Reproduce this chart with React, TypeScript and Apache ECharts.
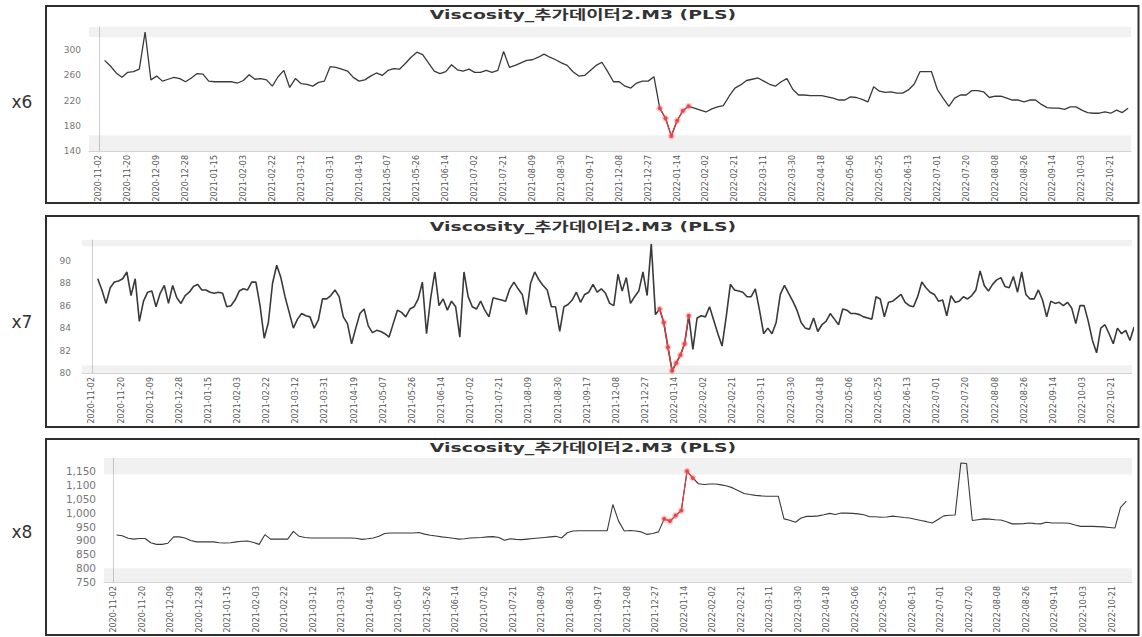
import React, { useEffect, useRef } from "react";
import * as echarts from "echarts";

// ---------- data ----------
const chartTitle = "Viscosity_추가데이터2.M3 (PLS)";

const dateLabels = [
  "2020-11-02", "2020-11-20", "2020-12-09", "2020-12-28", "2021-01-15", "2021-02-03",
  "2021-02-22", "2021-03-12", "2021-03-31", "2021-04-19", "2021-05-07", "2021-05-26",
  "2021-06-14", "2021-07-02", "2021-07-21", "2021-08-09", "2021-08-30", "2021-09-17",
  "2021-12-08", "2021-12-27", "2022-01-14", "2022-02-02", "2022-02-21", "2022-03-11",
  "2022-03-30", "2022-04-18", "2022-05-06", "2022-05-25", "2022-06-13", "2022-07-01",
  "2022-07-20", "2022-08-08", "2022-08-26", "2022-09-14", "2022-10-03", "2022-10-21",
];

const x6Values = [
  284, 275, 264, 257, 265, 266, 270, 329, 253, 259, 251, 254, 257, 255, 250, 256, 263, 262, 251, 250,
  250, 250, 250, 248, 252, 261, 254, 255, 253, 243, 258, 268, 241, 255, 247, 246, 243, 249, 251, 274,
  273, 270, 267, 257, 251, 253, 259, 264, 260, 268, 271, 270, 279, 289, 297, 293, 280, 267, 263, 266,
  277, 269, 267, 270, 265, 265, 268, 265, 268, 298, 273, 276, 280, 284, 285, 289, 294, 289, 285, 280,
  276, 266, 259, 260, 268, 276, 281, 266, 250, 250, 243, 240, 248, 251, 251, 258, 208, 192, 164, 188,
  204, 211, 208, 205, 202, 207, 210, 212, 227, 240, 245, 252, 254, 256, 251, 246, 243, 250, 255, 238,
  229, 229, 228, 228, 228, 226, 224, 221, 221, 226, 225, 222, 218, 242, 235, 233, 234, 232, 232, 237,
  246, 266, 266, 266, 238, 224, 211, 224, 229, 229, 236, 236, 234, 225, 227, 227, 224, 221, 221, 218,
  221, 221, 214, 209, 208, 208, 206, 210, 210, 205, 201, 200, 200, 202, 200, 205, 201, 208,
];

const x7Values = [
  88.4, 87.4, 86.2, 87.6, 88.1, 88.2, 88.4, 89.0, 86.9, 88.4, 84.6, 86.4, 87.2, 87.3, 85.9, 87.1, 87.8, 86.2, 87.8, 86.7,
  86.2, 86.9, 87.2, 87.7, 87.9, 87.4, 87.4, 87.2, 87.1, 87.2, 87.1, 85.9, 86.0, 86.5, 87.3, 87.5, 87.4, 88.1, 88.1, 86.0,
  83.1, 84.5, 88.0, 89.6, 88.5, 86.8, 85.4, 84.0, 84.8, 85.3, 85.1, 85.0, 84.0, 84.7, 86.6, 86.6, 86.9, 87.4, 86.8, 85.0,
  84.4, 82.6, 84.0, 85.3, 85.7, 84.2, 83.6, 83.8, 83.7, 83.5, 83.2, 84.4, 85.6, 85.4, 85.0, 85.7, 85.9, 86.6, 88.1, 83.5,
  86.7, 89.0, 86.0, 86.6, 85.6, 86.4, 85.9, 83.2, 89.0, 86.8, 85.9, 85.7, 86.4, 85.6, 85.0, 86.7, 86.6, 86.5, 86.4, 87.5,
  88.1, 87.5, 87.0, 85.2, 88.0, 89.0, 88.3, 87.8, 87.4, 85.9, 85.9, 83.7, 85.9, 86.1, 86.5, 87.2, 86.3, 87.0, 87.2, 87.9,
  87.2, 87.5, 87.1, 86.2, 86.0, 88.8, 87.3, 88.5, 86.2, 86.8, 87.3, 89.0, 86.9, 91.5, 85.2, 85.7, 84.5, 82.3, 80.2, 80.9,
  81.6, 82.6, 85.1, 82.1, 84.9, 85.1, 85.0, 85.9, 84.7, 83.5, 82.4, 85.0, 87.9, 87.4, 87.3, 87.2, 86.8, 86.8, 87.5, 85.6,
  83.5, 84.0, 83.5, 84.5, 87.0, 87.8, 87.1, 86.4, 85.6, 84.5, 84.0, 83.9, 84.9, 83.7, 84.3, 84.6, 85.3, 84.8, 84.3, 85.7,
  85.6, 85.3, 85.3, 85.2, 85.0, 84.9, 84.8, 86.8, 86.6, 85.0, 86.3, 86.4, 86.7, 87.0, 86.3, 86.0, 85.9, 86.8, 88.1, 87.6,
  87.2, 87.0, 86.4, 86.5, 85.1, 86.9, 86.3, 86.4, 86.8, 86.6, 86.9, 87.4, 89.1, 87.8, 87.3, 87.9, 88.3, 88.5, 87.7, 87.6,
  88.6, 87.2, 89.0, 87.0, 86.6, 86.6, 87.4, 86.5, 85.0, 86.4, 86.2, 86.3, 86.0, 86.3, 85.8, 84.4, 86.0, 86.0, 84.6, 82.9,
  81.8, 84.0, 84.3, 83.5, 82.6, 84.0, 83.5, 83.8, 82.9, 84.1,
];

const x8Values = [
  920, 917, 908, 905, 907, 907, 892, 886, 886, 890, 913, 913, 909, 900, 895, 895, 895, 895, 892, 891,
  892, 895, 897, 898, 893, 886, 921, 905, 905, 905, 905, 933, 915, 911, 909, 909, 909, 909, 909, 909,
  909, 909, 908, 904, 906, 909, 915, 925, 927, 927, 927, 927, 927, 929, 923, 919, 916, 913, 911, 908,
  905, 906, 909, 910, 911, 913, 914, 911, 901, 906, 904, 903, 905, 907, 909, 911, 913, 915, 909, 928,
  934, 935, 935, 935, 935, 935, 935, 1030, 970, 934, 936, 934, 931, 922, 925, 931, 978, 970, 990, 1008,
  1150, 1126, 1105, 1102, 1104, 1104, 1101, 1097, 1090, 1080, 1070, 1066, 1063, 1061, 1060, 1060, 1060, 978, 973, 966,
  981, 987, 987, 989, 993, 998, 994, 999, 999, 998, 996, 993, 986, 986, 984, 985, 988, 986, 983, 981,
  977, 972, 968, 963, 976, 989, 991, 992, 1180, 1178, 972, 975, 978, 977, 975, 974, 968, 960, 960, 961,
  963, 961, 960, 966, 963, 963, 963, 962, 956, 951, 951, 951, 950, 949, 947, 945, 1020, 1042,
];

// flagged (red) sample ranges, inclusive index ranges
const x6Flagged = [96, 101];
const x7Flagged = [135, 142];
const x8Flagged = [96, 101];

// shaded limit bands: [lower limit, upper limit]
const x6Limits = [165, 321];
const x7Limits = [80.7, 91.3];
const x8Limits = [800, 1138];

// y-axis ranges and tick labels
const x6Range = [140, 337];
const x7Range = [80, 91.85];
const x8Range = [750, 1198];
const x6Ticks = [140, 180, 220, 260, 300];
const x7Ticks = [80, 82, 84, 86, 88, 90];
const x8Ticks = [750, 800, 850, 900, 950, 1000, 1050, 1100, 1150];

// sampling: samples per date-label interval, and first sample offset (in label intervals)
const x6Sampling = { perLabel: 5, start: 0.2 };
const x7Sampling = { perLabel: 7, start: 0.2 };
const x8Sampling = { perLabel: 5, start: 0.1 };

const panelNames = ["x6", "x7", "x8"];

// ---------- layout ----------
const panels = [
  {
    name: panelNames[0], values: x6Values, flagged: x6Flagged, limits: x6Limits, range: x6Range, ticks: x6Ticks,
    sampling: x6Sampling,
    grid: { left: 89, top: 27, width: 1042, height: 124 },
    box: { y: 6, h: 197 }, titleY: 15, nameY: 102, lineWidth: 1.3, yFont: 9, yMargin: 8,
  },
  {
    name: panelNames[1], values: x7Values, flagged: x7Flagged, limits: x7Limits, range: x7Range, ticks: x7Ticks,
    sampling: x7Sampling,
    grid: { left: 82, top: 240, width: 1050, height: 133 },
    box: { y: 216, h: 211 }, titleY: 227, nameY: 322, lineWidth: 1.6, yFont: 9, yMargin: 11,
  },
  {
    name: panelNames[2], values: x8Values, flagged: x8Flagged, limits: x8Limits, range: x8Range, ticks: x8Ticks,
    sampling: x8Sampling,
    grid: { left: 104, top: 458, width: 1028, height: 124 },
    box: { y: 439, h: 196 }, titleY: 448, nameY: 532, lineWidth: 1.1, yFont: 10.5, yMargin: 8,
  },
];

const labelPositions = dateLabels.map((_, i) => i);

function buildOption() {
  const grid: any[] = [];
  const xAxis: any[] = [];
  const yAxis: any[] = [];
  const series: any[] = [];
  const graphic: any[] = [];

  panels.forEach((p, k) => {
    grid.push({ ...p.grid, containLabel: false });
    xAxis.push({
      type: "value",
      gridIndex: k,
      min: -0.34,
      max: 35.7,
      axisLine: { show: true, lineStyle: { color: "#d4d4d4", width: 1 } },
      axisTick: { show: false },
      splitLine: { show: false },
      axisLabel: {
        customValues: labelPositions,
        formatter: (v: number) => dateLabels[Math.round(v)] ?? "",
        rotate: 90,
        fontSize: 8,
        fontFamily: "DejaVu Sans",
        color: "#555",
        margin: 4,
      },
    });
    yAxis.push({
      type: "value",
      gridIndex: k,
      min: p.range[0],
      max: p.range[1],
      axisLine: { show: true, lineStyle: { color: "#cfcfcf", width: 1 } },
      axisTick: { show: false },
      splitLine: { show: false },
      axisLabel: {
        customValues: p.ticks,
        formatter: (v: number) => v.toLocaleString("en-US"),
        fontSize: p.yFont,
        fontFamily: "DejaVu Sans",
        color: "#777",
        margin: p.yMargin,
      },
    });

    const { perLabel, start } = p.sampling;
    const xOf = (i: number) => start + i / perLabel;

    series.push({
      type: "line",
      xAxisIndex: k,
      yAxisIndex: k,
      data: p.values.map((v, i) => [xOf(i), v]),
      showSymbol: false,
      symbol: "none",
      lineStyle: { color: "#3a3a3a", width: p.lineWidth },
      z: 3,
      markArea: {
        silent: true,
        itemStyle: { color: "rgba(0,0,0,0.055)" },
        data: [
          [{ yAxis: p.range[0] }, { yAxis: p.limits[0] }],
          [{ yAxis: p.limits[1] }, { yAxis: p.range[1] }],
        ],
      },
    });

    const flaggedData: any[] = [];
    for (let i = p.flagged[0]; i <= p.flagged[1]; i++) flaggedData.push([xOf(i), p.values[i]]);
    series.push({
      type: "line",
      xAxisIndex: k,
      yAxisIndex: k,
      data: flaggedData,
      symbol: "circle",
      symbolSize: 4,
      showSymbol: true,
      lineStyle: { color: "#e0393e", width: 1.2 },
      itemStyle: { color: "#e0393e", borderColor: "rgba(240,110,110,0.35)", borderWidth: 3 },
      z: 4,
    });

    graphic.push({
      type: "rect",
      shape: { x: 46, y: p.box.y, width: 1092.5, height: p.box.h },
      style: { fill: "none", stroke: "#2e2e2e", lineWidth: 2 },
      silent: true,
    });
    graphic.push({
      type: "text",
      x: 583,
      y: p.titleY,
      scaleX: 1.45,
      style: {
        text: chartTitle,
        font: 'bold 13px "DejaVu Sans", "Noto Sans CJK KR", sans-serif',
        fill: "#333",
        align: "center",
        verticalAlign: "middle",
      },
      silent: true,
    });
    graphic.push({
      type: "text",
      x: 22,
      y: p.nameY,
      style: {
        text: p.name,
        font: '17px "DejaVu Sans", sans-serif',
        fill: "#333",
        align: "center",
        verticalAlign: "middle",
      },
      silent: true,
    });
  });

  return {
    animation: false,
    backgroundColor: "#ffffff",
    grid,
    xAxis,
    yAxis,
    series,
    graphic,
  };
}

export default function App() {
  const ref = useRef<HTMLDivElement>(null);
  useEffect(() => {
    if (!ref.current) return;
    const chart = echarts.init(ref.current, null, { renderer: "svg" });
    chart.setOption(buildOption());
    return () => chart.dispose();
  }, []);
  return (
    <div
      ref={ref}
      style={{ position: "fixed", left: 0, top: 0, width: 1142, height: 637, background: "#fff" }}
    />
  );
}
